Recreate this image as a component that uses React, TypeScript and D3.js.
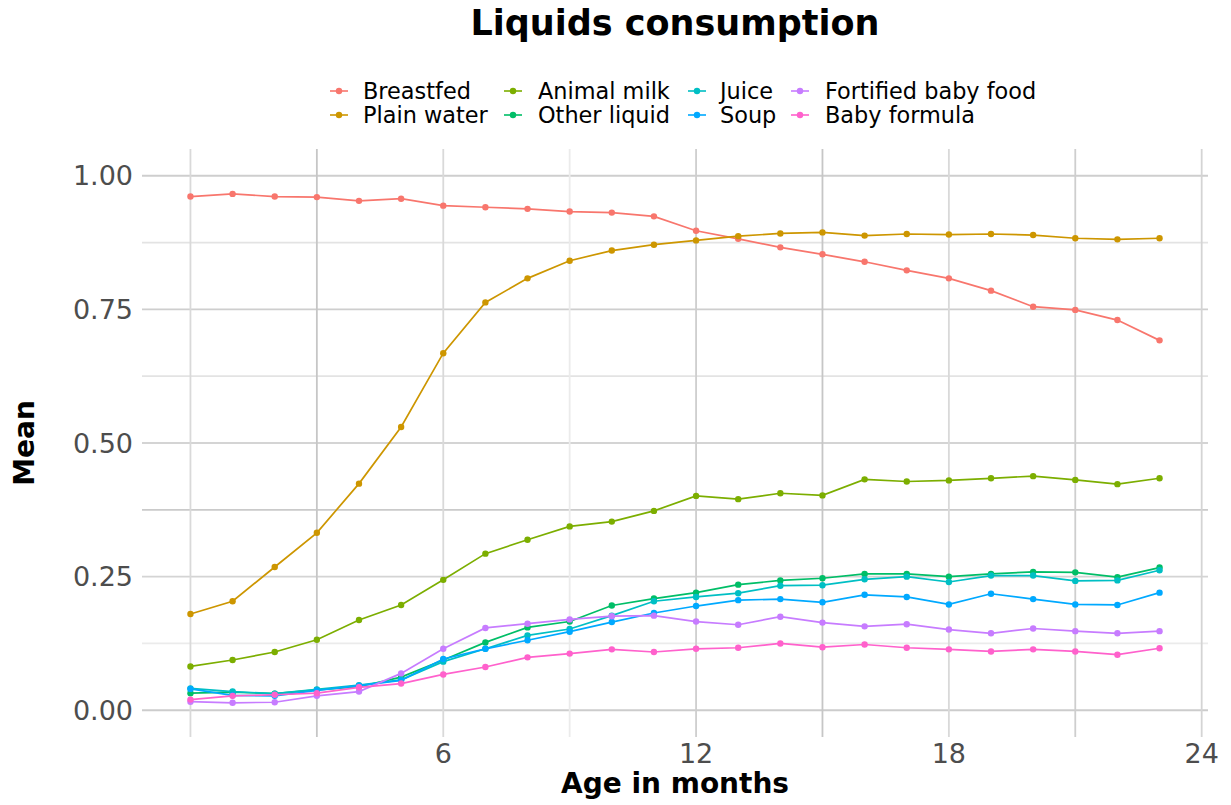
import * as d3 from 'd3';

// Age in months (x)
const months = d3.range(0, 24);

// Series names, in legend / draw order
const seriesNames = [
  'Breastfed',
  'Plain water',
  'Animal milk',
  'Other liquid',
  'Juice',
  'Soup',
  'Fortified baby food',
  'Baby formula',
];

const seriesColors = ['#F8766D', '#CD9600', '#7CAE00', '#00BE67', '#00BFC4', '#00A9FF', '#C77CFF', '#FF61CC'];

const breastfed = [0.961, 0.966, 0.961, 0.960, 0.953, 0.957, 0.944, 0.941, 0.938, 0.933, 0.931, 0.924,
  0.897, 0.882, 0.866, 0.853, 0.839, 0.823, 0.808, 0.785, 0.755, 0.749, 0.730, 0.692];
const plainWater = [0.180, 0.204, 0.268, 0.332, 0.424, 0.530, 0.668, 0.763, 0.808, 0.841, 0.860, 0.871,
  0.879, 0.887, 0.892, 0.894, 0.888, 0.891, 0.890, 0.891, 0.889, 0.883, 0.881, 0.883];
const animalMilk = [0.082, 0.094, 0.109, 0.132, 0.169, 0.197, 0.244, 0.293, 0.319, 0.344, 0.353, 0.373,
  0.401, 0.395, 0.406, 0.402, 0.432, 0.428, 0.430, 0.434, 0.438, 0.431, 0.423, 0.434];
const otherLiquid = [0.032, 0.034, 0.031, 0.038, 0.044, 0.062, 0.094, 0.127, 0.155, 0.166, 0.196, 0.209,
  0.220, 0.235, 0.243, 0.247, 0.255, 0.255, 0.250, 0.255, 0.259, 0.258, 0.249, 0.267];
const juice = [0.041, 0.035, 0.031, 0.039, 0.047, 0.057, 0.091, 0.115, 0.140, 0.152, 0.177, 0.204,
  0.212, 0.219, 0.233, 0.234, 0.245, 0.250, 0.240, 0.252, 0.252, 0.242, 0.243, 0.262];
const soup = [0.040, 0.028, 0.027, 0.037, 0.046, 0.056, 0.096, 0.115, 0.131, 0.147, 0.165, 0.182,
  0.195, 0.206, 0.208, 0.202, 0.216, 0.212, 0.198, 0.218, 0.208, 0.198, 0.197, 0.220];
const fortifiedBabyFood = [0.016, 0.014, 0.015, 0.027, 0.035, 0.069, 0.115, 0.154, 0.162, 0.170, 0.176, 0.177,
  0.166, 0.160, 0.175, 0.164, 0.157, 0.161, 0.151, 0.144, 0.153, 0.148, 0.144, 0.148];
const babyFormula = [0.020, 0.027, 0.029, 0.032, 0.043, 0.050, 0.067, 0.081, 0.099, 0.106, 0.114, 0.109,
  0.115, 0.117, 0.125, 0.118, 0.123, 0.117, 0.114, 0.110, 0.114, 0.110, 0.104, 0.116];

const seriesValues = [breastfed, plainWater, animalMilk, otherLiquid, juice, soup, fortifiedBabyFood, babyFormula];

const xTicks = [6, 12, 18, 24];
const xGrid = [0, 3, 6, 9, 12, 15, 18, 21, 24];
const yTicks = [0, 0.25, 0.5, 0.75, 1];
const yGrid = [0, 0.125, 0.25, 0.375, 0.5, 0.625, 0.75, 0.875, 1];

// gridlines are overplotted in the original, so some look darker
const xGridShade = ['#d9d9d9', '#c6c6c6', '#d9d9d9', '#ebebeb', '#cecece', '#c6c6c6', '#d9d9d9', '#cecece', '#d4d4d4'];
const yGridShade = ['#cccccc', '#ebebeb', '#d4d4d4', '#cacaca', '#d4d4d4', '#e3e3e3', '#cecece', '#e3e3e3', '#cecece'];

const W = 1231;
const H = 805;
const panel = { left: 142, right: 1208, top: 149, bottom: 737 };
const font = 'DejaVu Sans, Verdana, sans-serif';

export default function App() {
  const x = d3.scaleLinear().domain([-1.15, 24.15]).range([panel.left, panel.right]);
  const y = d3.scaleLinear().domain([-0.05, 1.05]).range([panel.bottom, panel.top]);

  const line = d3
    .line<number>()
    .x((_, i) => x(months[i]))
    .y((d) => y(d));

  // legend: 4 columns x 2 rows, filled by column
  const legendCols = [{ key: 339, text: 363 }, { key: 513, text: 538 }, { key: 697, text: 720 }, { key: 800, text: 825 }];
  const legendRows = [91, 115];

  return (
    <svg width={W} height={H} style={{ position: 'absolute', left: 0, top: 0, background: '#fff' }} fontFamily={font}>
      {/* Title */}
      <text x={(panel.left + panel.right) / 2} y={35} textAnchor="middle" fontSize={35} fontWeight="bold" fill="#000">
        Liquids consumption
      </text>

      {/* Legend */}
      {seriesNames.map((name, i) => {
        const col = legendCols[Math.floor(i / 2)];
        const cy = legendRows[i % 2];
        return (
          <g key={name}>
            <line x1={col.key - 9} x2={col.key + 9} y1={cy} y2={cy} stroke={seriesColors[i]} strokeWidth={1.6} />
            <circle cx={col.key} cy={cy} r={3.2} fill={seriesColors[i]} />
            <text x={col.text} y={cy} dy="0.36em" fontSize={22.4} fill="#000">
              {name}
            </text>
          </g>
        );
      })}

      {/* Grid */}
      {yGrid.map((v, i) => (
        <line key={'h' + v} x1={panel.left} x2={panel.right} y1={y(v)} y2={y(v)} stroke={yGridShade[i]} strokeWidth={1.8} />
      ))}
      {xGrid.map((v, i) => (
        <line key={'v' + v} x1={x(v)} x2={x(v)} y1={panel.top} y2={panel.bottom} stroke={xGridShade[i]} strokeWidth={1.8} />
      ))}

      {/* Series */}
      {seriesValues.map((vals, i) => (
        <g key={seriesNames[i]}>
          <path d={line(vals) || ''} fill="none" stroke={seriesColors[i]} strokeWidth={1.7} />
          {vals.map((v, j) => (
            <circle key={j} cx={x(months[j])} cy={y(v)} r={3.2} fill={seriesColors[i]} />
          ))}
        </g>
      ))}

      {/* Axes */}
      {yTicks.map((t) => (
        <text key={'yt' + t} x={133} y={y(t)} dy="0.36em" textAnchor="end" fontSize={27} fill="#4D4D4D">
          {d3.format('.2f')(t)}
        </text>
      ))}
      {xTicks.map((t) => (
        <text key={'xt' + t} x={x(t)} y={763} textAnchor="middle" fontSize={27} fill="#4D4D4D">
          {t}
        </text>
      ))}
      <text x={(panel.left + panel.right) / 2} y={793} textAnchor="middle" fontSize={28} fontWeight="bold" fill="#000">
        Age in months
      </text>
      <text
        transform={`translate(34,${(panel.top + panel.bottom) / 2}) rotate(-90)`}
        textAnchor="middle"
        fontSize={28}
        fontWeight="bold"
        fill="#000"
      >
        Mean
      </text>
    </svg>
  );
}
